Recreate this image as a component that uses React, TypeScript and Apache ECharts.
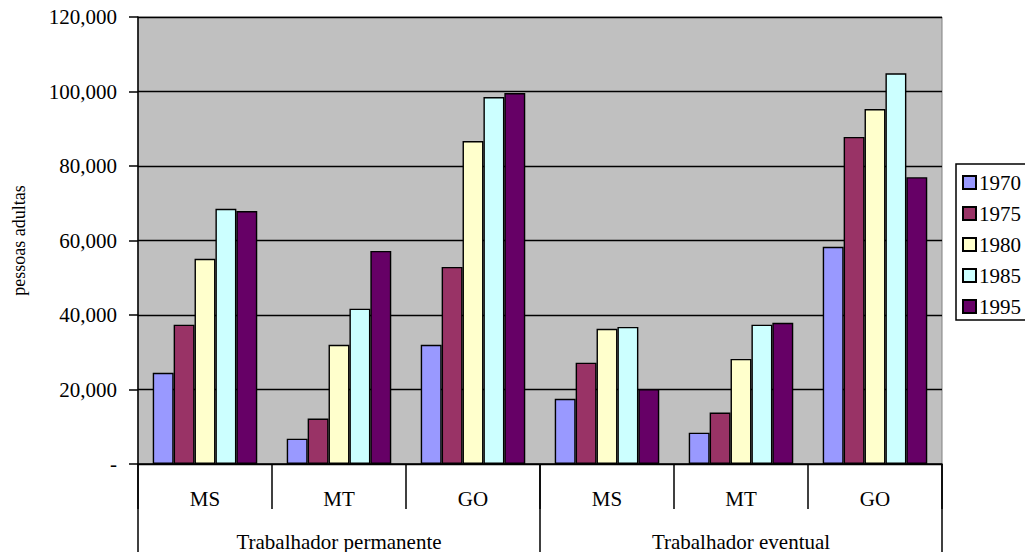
import React, { useEffect, useRef } from "react";
import * as echarts from "echarts";

const categories = ["MS", "MT", "GO", "MS", "MT", "GO"];
const groups = ["Trabalhador permanente", "Trabalhador eventual"];
const years = ["1970", "1975", "1980", "1985", "1995"];
const colors = ["#9999ff", "#993366", "#ffffcc", "#ccffff", "#660066"];

const v1970 = [24500, 6800, 32000, 17500, 8400, 58300];
const v1975 = [37400, 12200, 52900, 27200, 13800, 87800];
const v1980 = [55100, 32000, 86700, 36300, 28200, 95300];
const v1985 = [68500, 41700, 98500, 36800, 37400, 104900];
const v1995 = [67900, 57200, 99600, 20100, 37900, 77000];
const seriesValues = [v1970, v1975, v1980, v1985, v1995];

const yTicks = { min: 0, max: 120000, interval: 20000 };

const FONT = "'Liberation Serif', 'DejaVu Serif', serif";

export default function App() {
  const ref = useRef<HTMLDivElement>(null);

  useEffect(() => {
    document.body.style.margin = "0";
    if (!ref.current) return;
    const chart = echarts.init(ref.current, undefined, { renderer: "svg" });
    chart.setOption({
      animation: false,
      backgroundColor: "#ffffff",
      textStyle: { fontFamily: FONT, color: "#000" },
      grid: {
        left: 138,
        right: 83,
        top: 17,
        bottom: 87,
        show: true,
        backgroundColor: "#c0c0c0",
        borderColor: "#808080",
        borderWidth: 1,
      },
      graphic: [
        {
          type: "rect",
          z: 1,
          shape: { x: 956, y: 164, width: 90, height: 156 },
          style: { fill: "#fff", stroke: "#000", lineWidth: 1.5 },
        },
      ],
      legend: {
        orient: "vertical",
        left: 956,
        top: 164,
        z: 5,
        padding: [8, 4, 5, 6],
        itemWidth: 13,
        itemHeight: 13,
        itemGap: 10,
        textStyle: { fontFamily: FONT, fontSize: 21, color: "#000", padding: [0, 0, 0, -2] },
        data: years.map((y) => ({ name: y, icon: "rect" })),
      },
      xAxis: [
        {
          type: "category",
          data: categories,
          position: "bottom",
          axisLine: { show: true, lineStyle: { color: "#000", width: 1.5 } },
          axisTick: { show: true, interval: 0, length: 45, lineStyle: { color: "#000", width: 1.5 } },
          axisLabel: { interval: 0, margin: 24, fontFamily: FONT, fontSize: 21, color: "#000" },
          splitLine: { show: false },
        },
        {
          type: "category",
          data: groups,
          position: "bottom",
          axisLine: { show: false },
          axisTick: { show: true, interval: 0, length: 90, lineStyle: { color: "#000", width: 1.5 } },
          axisLabel: { interval: 0, margin: 67, fontFamily: FONT, fontSize: 21, color: "#000" },
          splitLine: { show: false },
        },
      ],
      yAxis: {
        type: "value",
        min: yTicks.min,
        max: yTicks.max,
        interval: yTicks.interval,
        name: "pessoas adultas",
        nameLocation: "middle",
        nameRotate: 90,
        nameGap: 110,
        nameTextStyle: { fontFamily: FONT, fontSize: 18, color: "#000" },
        axisLine: { show: true, lineStyle: { color: "#000", width: 1.5 } },
        axisTick: { show: true, length: 9, lineStyle: { color: "#000", width: 1.5 } },
        axisLabel: {
          margin: 21,
          fontFamily: FONT,
          fontSize: 21,
          color: "#000",
          formatter: (v: number) => (v === 0 ? "-" : v.toLocaleString("en-US")),
        },
        splitLine: { show: true, lineStyle: { color: "#000", width: 1.3 } },
      },
      series: years.map((y, i) => ({
        name: y,
        type: "bar",
        xAxisIndex: 0,
        data: seriesValues[i],
        barGap: "0%",
        barCategoryGap: "22%",
        itemStyle: { color: colors[i], borderColor: "#000", borderWidth: 1.4 },
      })),
    });
    return () => chart.dispose();
  }, []);

  return <div ref={ref} style={{ width: 1025, height: 552 }} />;
}
